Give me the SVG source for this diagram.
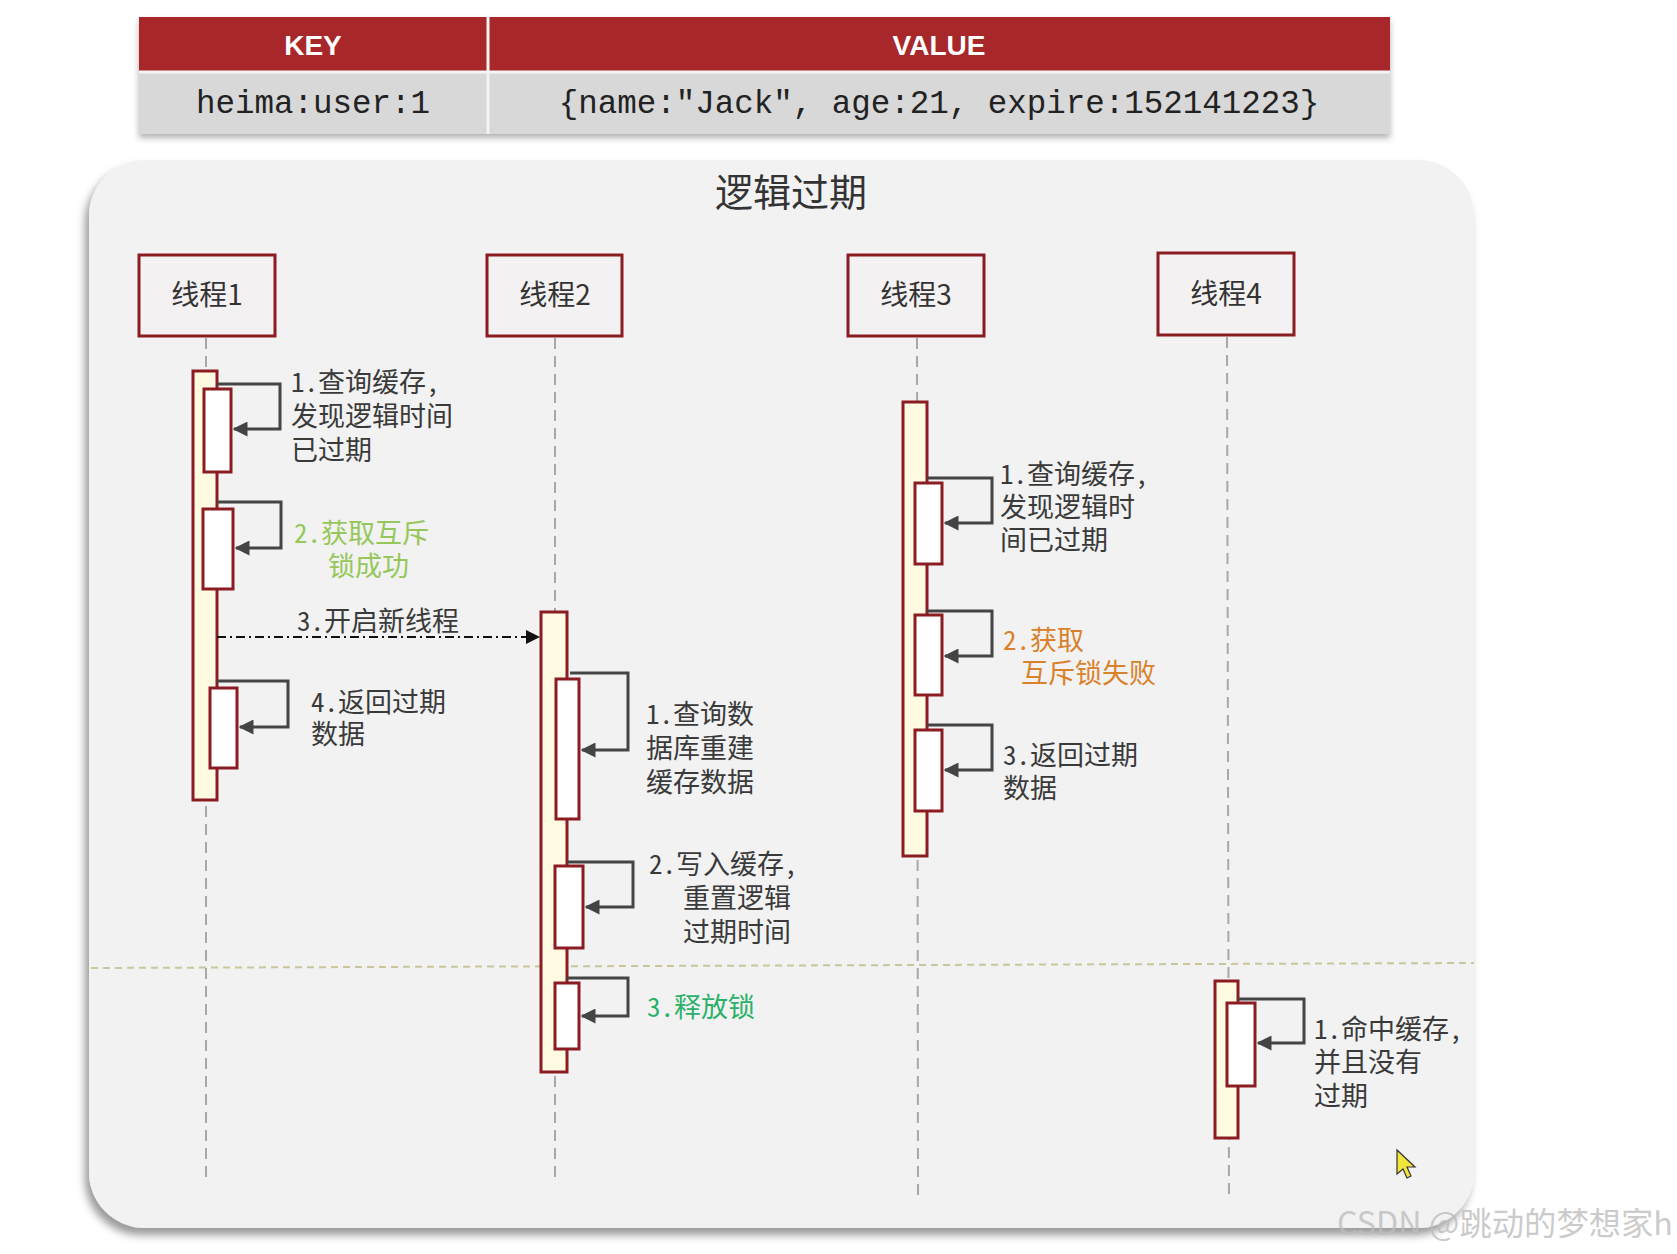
<svg xmlns="http://www.w3.org/2000/svg" width="1677" height="1254" viewBox="0 0 1677 1254">
<defs>
<style>
.hdr{font-family:"Liberation Sans","DejaVu Sans",sans-serif;font-weight:bold;font-size:28px;fill:#ffffff;text-anchor:middle}
.mono{font-family:"Liberation Mono","DejaVu Sans Mono",monospace;font-size:32.5px;fill:#222;text-anchor:middle}
.cjk{font-family:"Noto Sans Mono CJK SC","Noto Sans CJK SC",sans-serif;font-size:27px;fill:#3a3a3a}
.title{font-family:"Noto Sans CJK SC",sans-serif;font-size:38px;fill:#333;text-anchor:middle}
.head{fill:#f3f1f1;stroke:#8b1c22;stroke-width:3}
.headtxt{font-family:"Noto Sans CJK SC",sans-serif;font-size:28px;fill:#333;text-anchor:middle}
.life{stroke:#a8a8a8;stroke-width:2;stroke-dasharray:11 7;fill:none}
.act{fill:#fffbe3;stroke:#8b1c22;stroke-width:3}
.inner{fill:#ffffff;stroke:#8b1c22;stroke-width:3}
.self{fill:none;stroke:#444;stroke-width:3;marker-end:url(#ah)}
.async{fill:none;stroke:#111;stroke-width:2;stroke-dasharray:9 4 2 4;marker-end:url(#ab)}
.g1{fill:#95c75a}
.g2{fill:#2bb06a}
.or{fill:#d9812b}
</style>
<marker id="ah" viewBox="0 0 10 10" refX="9" refY="5" markerWidth="5" markerHeight="5" markerUnits="strokeWidth" orient="auto">
<path d="M0,0 L10,5 L0,10 Z" fill="#444"/>
</marker>
<marker id="ab" viewBox="0 0 10 10" refX="10" refY="5" markerWidth="7" markerHeight="7" markerUnits="strokeWidth" orient="auto">
<path d="M0,0 L10,5 L0,10 Z" fill="#111"/>
</marker>
<filter id="psh" x="-5%" y="-5%" width="110%" height="112%">
<feDropShadow dx="-4" dy="7" stdDeviation="4" flood-color="#000" flood-opacity="0.4"/>
</filter>
<filter id="tsh" x="-5%" y="-10%" width="110%" height="130%">
<feDropShadow dx="0" dy="4" stdDeviation="3" flood-color="#000" flood-opacity="0.3"/>
</filter>
</defs>
<rect x="0" y="0" width="1677" height="1254" fill="#ffffff"/>

<g id="table">
<g filter="url(#tsh)">
<rect x="139" y="17" width="1251" height="117" fill="#d8d8d8"/>
</g>
<rect x="139" y="17" width="1251" height="55" fill="#a8272a"/>
<line x1="139" y1="72" x2="1390" y2="72" stroke="#f4f4f4" stroke-width="3"/>
<line x1="488" y1="17" x2="488" y2="134" stroke="#f4f4f4" stroke-width="3"/>
<text class="hdr" x="313" y="55">KEY</text>
<text class="hdr" x="939" y="55">VALUE</text>
<text class="mono" x="313" y="113">heima:user:1</text>
<text class="mono" x="939" y="113">{name:"Jack", age:21, expire:152141223}</text>
</g>

<g id="panel">
<rect x="89" y="160" width="1385" height="1068" rx="56" ry="56" fill="#f2f2f2" filter="url(#psh)"/>
<text class="title" x="791" y="206">逻辑过期</text>
<line x1="91" y1="968" x2="1474" y2="963" stroke="#c9c79a" stroke-width="2" stroke-dasharray="7 5"/>
</g>

<g id="thread1">
<rect class="head" x="139" y="255" width="136" height="81"/>
<text class="headtxt" x="207" y="305">线程1</text>
<line class="life" x1="206" y1="338" x2="206" y2="1178"/>
<rect class="act" x="193" y="371" width="24" height="429"/>
<rect class="inner" x="204" y="389" width="27" height="83"/>
<rect class="inner" x="203" y="509" width="30" height="80"/>
<rect class="inner" x="210" y="688" width="27" height="80"/>
</g>

<g id="thread2">
<rect class="head" x="487" y="255" width="135" height="81"/>
<text class="headtxt" x="555" y="305">线程2</text>
<line class="life" x1="555" y1="338" x2="555" y2="1178"/>
<rect class="act" x="541" y="612" width="26" height="460"/>
<rect class="inner" x="556" y="679" width="23" height="140"/>
<rect class="inner" x="555" y="866" width="28" height="82"/>
<rect class="inner" x="555" y="983" width="24" height="66"/>
</g>

<g id="thread3">
<rect class="head" x="848" y="255" width="136" height="81"/>
<text class="headtxt" x="916" y="305">线程3</text>
<line class="life" x1="917" y1="338" x2="918" y2="1198"/>
<rect class="act" x="903" y="402" width="24" height="454"/>
<rect class="inner" x="915" y="483" width="27" height="81"/>
<rect class="inner" x="915" y="615" width="27" height="80"/>
<rect class="inner" x="915" y="730" width="27" height="81"/>
</g>

<g id="thread4">
<rect class="head" x="1158" y="253" width="136" height="82"/>
<text class="headtxt" x="1226" y="304">线程4</text>
<line class="life" x1="1227" y1="337" x2="1229" y2="1198"/>
<rect class="act" x="1215" y="981" width="23" height="157"/>
<rect class="inner" x="1227" y="1003" width="28" height="83"/>
</g>

<g id="connectors">
<path class="self" d="M217,384 H280 V429 H234"/>
<path class="self" d="M217,502 H281 V548 H236"/>
<path class="async" d="M217,637 H540"/>
<path class="self" d="M217,681 H288 V727 H240"/>
<path class="self" d="M570,673 H628 V750 H582"/>
<path class="self" d="M567,862 H633 V907 H586"/>
<path class="self" d="M567,978 H628 V1016 H582"/>
<path class="self" d="M927,478 H992 V523 H945"/>
<path class="self" d="M927,611 H992 V656 H945"/>
<path class="self" d="M927,725 H992 V770 H945"/>
<path class="self" d="M1238,999 H1304 V1043 H1258"/>
</g>

<g id="labels">
<text class="cjk" x="291" y="392"><tspan x="291">1.查询缓存,</tspan><tspan x="291" dy="34">发现逻辑时间</tspan><tspan x="291" dy="34">已过期</tspan></text>
<text class="cjk g1" x="294" y="543"><tspan x="294">2.获取互斥</tspan><tspan x="328" dy="33">锁成功</tspan></text>
<text class="cjk" x="297" y="631">3.开启新线程</text>
<text class="cjk" x="311" y="712"><tspan x="311">4.返回过期</tspan><tspan x="311" dy="32">数据</tspan></text>
<text class="cjk" x="646" y="724"><tspan x="646">1.查询数</tspan><tspan x="646" dy="34">据库重建</tspan><tspan x="646" dy="34">缓存数据</tspan></text>
<text class="cjk" x="649" y="874"><tspan x="649">2.写入缓存,</tspan><tspan x="683" dy="34">重置逻辑</tspan><tspan x="683" dy="34">过期时间</tspan></text>
<text class="cjk g2" x="647" y="1017">3.释放锁</text>
<text class="cjk" x="1000" y="484"><tspan x="1000">1.查询缓存,</tspan><tspan x="1000" dy="33">发现逻辑时</tspan><tspan x="1000" dy="33">间已过期</tspan></text>
<text class="cjk or" x="1003" y="650"><tspan x="1003">2.获取</tspan><tspan x="1021" dy="33">互斥锁失败</tspan></text>
<text class="cjk" x="1003" y="765"><tspan x="1003">3.返回过期</tspan><tspan x="1003" dy="33">数据</tspan></text>
<text class="cjk" x="1314" y="1039"><tspan x="1314">1.命中缓存,</tspan><tspan x="1314" dy="33">并且没有</tspan><tspan x="1314" dy="34">过期</tspan></text>
</g>

<path d="M1397,1150 L1397,1174 L1403,1169 L1407,1178 L1411,1176 L1407,1167 L1415,1167 Z" fill="#f0e63c" stroke="#333" stroke-width="1.2"/>
<text x="1337" y="1235" font-family="Noto Sans CJK SC,sans-serif" font-size="32" fill="#bdbdbd" fill-opacity="0.8" textLength="336" lengthAdjust="spacingAndGlyphs">CSDN @跳动的梦想家h</text>
</svg>
